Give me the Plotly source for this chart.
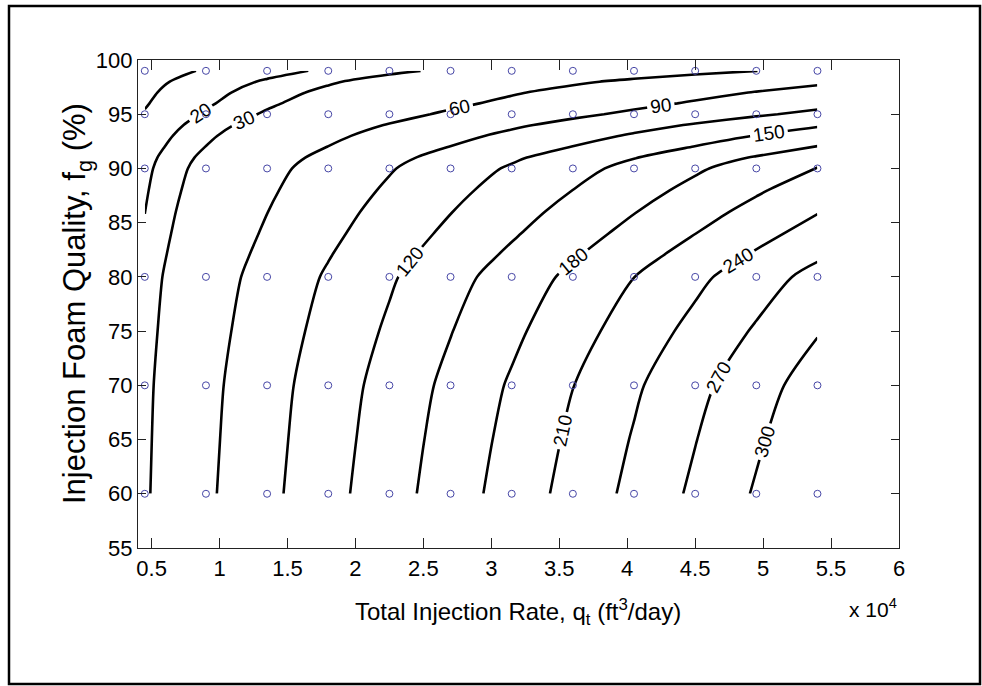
import plotly.graph_objects as go

# ---- data ----
# grid columns: total injection rate q_t (ft^3/day)
q_t = [4500, 9000, 13500, 18000, 22500, 27000, 31500, 36000, 40500, 45000, 49500, 54000]
# grid rows: injection foam quality f_g (%)
f_g = [60, 65, 70, 75, 80, 82, 84, 86, 88, 90, 91, 92, 93, 94, 95, 96, 97, 98, 99]
# contoured quantity (rows follow f_g, columns follow q_t)
z_vals = [
    [27.5, 55.1, 82.6, 110.2, 137.7, 165.2, 192.8, 220.3, 247.9, 275.4, 302.9, 330.5],
    [26.9, 53.8, 80.7, 107.6, 134.6, 161.5, 188.4, 215.3, 242.2, 269.1, 296.0, 322.9],
    [26.2, 52.4, 78.6, 104.8, 131.0, 157.1, 183.3, 209.5, 235.7, 261.9, 288.1, 314.3],
    [24.8, 49.7, 74.5, 99.4, 124.2, 149.0, 173.9, 198.7, 223.6, 248.4, 273.2, 298.1],
    [23.3, 46.6, 69.9, 93.2, 116.6, 139.9, 163.2, 186.5, 209.8, 233.1, 256.4, 279.7],
    [22.1, 44.3, 66.4, 88.6, 110.7, 132.8, 155.0, 177.1, 199.3, 221.4, 243.5, 265.7],
    [21.0, 41.9, 62.9, 83.9, 104.9, 125.8, 146.8, 167.8, 188.7, 209.7, 230.7, 251.6],
    [19.9, 39.8, 59.7, 79.6, 99.5, 119.3, 139.2, 159.1, 179.0, 198.9, 218.8, 238.7],
    [18.8, 37.5, 56.3, 75.1, 93.8, 112.6, 131.4, 150.1, 168.9, 187.7, 206.4, 225.2],
    [17.6, 35.2, 52.8, 70.4, 88.0, 105.6, 123.2, 140.8, 158.4, 176.0, 193.5, 211.1],
    [16.6, 33.1, 49.7, 66.2, 82.8, 99.4, 115.9, 132.5, 149.0, 165.6, 182.2, 198.7],
    [15.1, 30.2, 45.2, 60.3, 75.4, 90.5, 105.5, 120.6, 135.7, 150.8, 165.8, 180.9],
    [13.7, 27.5, 41.2, 54.9, 68.6, 82.4, 96.1, 109.8, 123.5, 137.3, 151.0, 164.7],
    [12.2, 24.5, 36.7, 49.0, 61.2, 73.4, 85.7, 97.9, 110.2, 122.4, 134.6, 146.9],
    [10.6, 21.2, 31.7, 42.3, 52.9, 63.5, 74.0, 84.6, 95.2, 105.8, 116.3, 126.9],
    [9.3, 18.5, 27.8, 37.1, 46.4, 55.6, 64.9, 74.2, 83.4, 92.7, 102.0, 111.2],
    [8.3, 16.6, 24.8, 33.1, 41.4, 49.7, 58.0, 66.2, 74.5, 82.8, 91.1, 99.4],
    [7.1, 14.2, 21.3, 28.4, 35.6, 42.7, 49.8, 56.9, 64.0, 71.1, 78.2, 85.3],
    [5.4, 10.9, 16.3, 21.8, 27.2, 32.7, 38.1, 43.6, 49.0, 54.5, 59.9, 65.3],
]
# simulation points shown as markers
sim_q = q_t
sim_fg = [60, 70, 80, 90, 95, 99]

x_tickvals = [5000, 10000, 15000, 20000, 25000, 30000, 35000, 40000, 45000, 50000, 55000, 60000]
x_ticktext = ["0.5", "1", "1.5", "2", "2.5", "3", "3.5", "4", "4.5", "5", "5.5", "6"]
y_tickvals = [55, 60, 65, 70, 75, 80, 85, 90, 95, 100]

FONT = "Liberation Sans, Arial, sans-serif"

fig = go.Figure()

common = dict(
    x=q_t, y=f_g, z=z_vals, showscale=False, hoverinfo="skip",
    line=dict(color="black", width=2.6, smoothing=0.8),
    colorscale=[[0, "black"], [1, "black"]],
)
fig.add_trace(go.Contour(
    **common, autocontour=False,
    contours=dict(start=10, end=20, size=10, coloring="none", showlabels=True,
                  labelfont=dict(family=FONT, size=19, color="black")),
))
fig.add_trace(go.Contour(
    **common, autocontour=False,
    contours=dict(start=30, end=300, size=30, coloring="none", showlabels=True,
                  labelfont=dict(family=FONT, size=19, color="black")),
))

mx = [q for f in sim_fg for q in sim_q]
my = [f for f in sim_fg for q in sim_q]
fig.add_trace(go.Scatter(
    x=mx, y=my, mode="markers", hoverinfo="skip",
    marker=dict(symbol="circle-open", size=7, color="#4646a6", line=dict(width=1, color="#4646a6")),
))

L, R, T, B = 138, 83, 60, 138
W, H = 982, 686
pw, ph = W - L - R, H - T - B

def px(xp):
    return (xp - L) / pw

def py(yp):
    return (H - B - yp) / ph

fig.update_layout(
    width=W, height=H, margin=dict(l=L, r=R, t=T, b=B),
    paper_bgcolor="white", plot_bgcolor="white", showlegend=False,
    xaxis=dict(range=[4000, 60000], tickvals=x_tickvals, ticktext=x_ticktext,
               showgrid=False, zeroline=False, showline=True, mirror="ticks",
               linecolor="#222", linewidth=1.3, ticks="inside", ticklen=10,
               tickcolor="#222", tickwidth=1,
               tickfont=dict(family=FONT, size=22, color="black")),
    yaxis=dict(range=[55, 100], tickvals=y_tickvals,
               showgrid=False, zeroline=False, showline=True, mirror="ticks",
               linecolor="#222", linewidth=1.3, ticks="inside", ticklen=8,
               tickcolor="#222", tickwidth=1,
               tickfont=dict(family=FONT, size=22, color="black")),
    annotations=[
        dict(text="Total Injection Rate, q<sub>t</sub> (ft<sup>3</sup>/day)",
             x=px(518), y=py(612), xref="paper", yref="paper", showarrow=False,
             xanchor="center", yanchor="middle",
             font=dict(family=FONT, size=24, color="black")),
        dict(text="Injection Foam Quality, f<sub>g</sub> (%)",
             x=px(77), y=py(304), xref="paper", yref="paper", showarrow=False,
             xanchor="center", yanchor="middle", textangle=-90,
             font=dict(family=FONT, size=31, color="black")),
        dict(text="x 10<sup>4</sup>",
             x=px(899), y=py(608), xref="paper", yref="paper", showarrow=False,
             xanchor="right", yanchor="middle",
             font=dict(family=FONT, size=21, color="black")),
    ],
    shapes=[
        dict(type="rect", xref="paper", yref="paper",
             x0=px(9), x1=px(980), y0=py(684), y1=py(6),
             line=dict(color="black", width=2.5), fillcolor="rgba(0,0,0,0)", layer="below"),
    ],
)

fig.write_html("out.html")
